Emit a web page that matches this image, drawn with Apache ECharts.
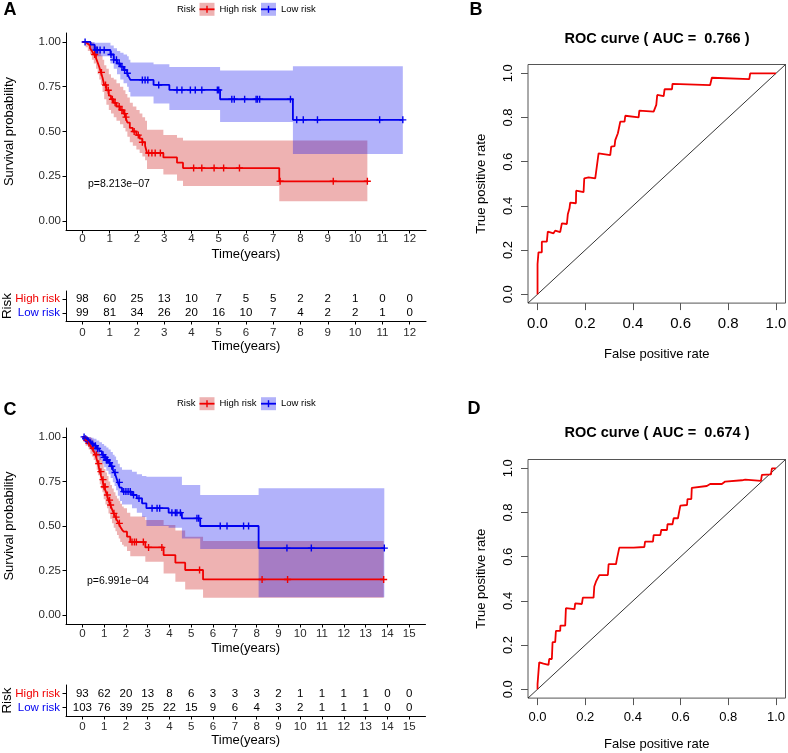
<!DOCTYPE html>
<html><head><meta charset="utf-8">
<script src="https://cdn.jsdelivr.net/npm/echarts@6/dist/echarts.min.js"></script>
<style>html,body{margin:0;padding:0;background:#fff}#c{width:788px;height:753px}</style>
</head><body><div id="c"></div>
<script>
// ---------- Panel A : Kaplan-Meier ----------
const highA_t  = [0,0.12,0.2,0.28,0.35,0.42,0.5,0.56,0.62,0.68,0.74,0.8,0.88,0.97,1.05,1.15,1.25,1.38,1.5,1.58,1.65,1.74,1.85,1.98,2.1,2.2,2.3,2.37,2.97,3.47,3.69,7.22,10.45];
const highA_s  = [1,0.99,0.98,0.965,0.95,0.93,0.91,0.885,0.86,0.83,0.8,0.76,0.73,0.7,0.68,0.66,0.64,0.62,0.6,0.58,0.55,0.52,0.5,0.48,0.46,0.44,0.42,0.38,0.355,0.326,0.296,0.222,0.222];
const highA_hi = [1,1,1,1,0.995,0.985,0.975,0.96,0.945,0.925,0.9,0.87,0.85,0.82,0.8,0.79,0.77,0.75,0.73,0.71,0.69,0.66,0.64,0.62,0.6,0.58,0.56,0.51,0.48,0.465,0.45,0.45,0.45];
const highA_lo = [1,0.97,0.95,0.93,0.9,0.88,0.85,0.82,0.79,0.76,0.72,0.68,0.65,0.62,0.6,0.58,0.56,0.54,0.52,0.5,0.47,0.44,0.42,0.4,0.38,0.36,0.34,0.29,0.26,0.225,0.195,0.11,0.11];
const highA_cens = [0.45,0.7,0.85,0.95,1.1,1.2,1.35,1.45,1.55,1.6,1.9,2.05,2.2,2.43,2.55,2.67,2.86,4.08,4.38,4.83,5.18,5.76,7.25,9.2,10.45];

const lowA_t  = [0,0.3,0.45,1.03,1.15,1.27,1.39,1.51,1.64,1.7,1.76,2.61,3.19,5.05,7.72,11.75];
const lowA_s  = [1,0.985,0.955,0.93,0.9,0.88,0.862,0.843,0.825,0.806,0.788,0.76,0.732,0.68,0.565,0.565];
const lowA_hi = [1,1,0.995,0.98,0.965,0.95,0.94,0.93,0.92,0.9,0.885,0.875,0.86,0.84,0.865,0.865];
const lowA_lo = [1,0.95,0.92,0.88,0.85,0.82,0.79,0.77,0.75,0.72,0.695,0.657,0.62,0.553,0.375,0.375];
const lowA_cens = [0.1,0.5,0.55,0.65,0.8,1.05,1.15,1.25,1.35,1.45,1.55,1.65,2.2,2.3,2.4,2.8,3.47,3.65,3.96,4.14,4.38,4.95,5.0,5.48,5.57,5.95,6.37,6.42,6.5,7.63,7.86,8.1,8.62,10.9,11.75];

const tableA_times = [0,1,2,3,4,5,6,7,8,9,10,11,12];
const tableA_high  = [98,60,25,13,10,7,5,5,2,2,1,0,0];
const tableA_low   = [99,81,34,26,20,16,10,7,4,2,2,1,0];
const pA = 'p=8.213e\u221207';

// ---------- Panel C : Kaplan-Meier ----------
const highC_t  = [0,0.15,0.29,0.37,0.44,0.52,0.6,0.66,0.72,0.8,0.86,0.92,0.98,1.06,1.13,1.2,1.28,1.36,1.44,1.52,1.59,1.67,1.74,1.82,1.9,2.05,2.2,2.89,3.73,4.27,4.72,5.54,13.83];
const highC_s  = [1,0.98,0.964,0.95,0.936,0.92,0.9,0.875,0.85,0.805,0.78,0.76,0.72,0.7,0.674,0.645,0.618,0.595,0.571,0.55,0.533,0.515,0.496,0.48,0.468,0.44,0.41,0.38,0.337,0.294,0.253,0.2,0.2];
const highC_hi = [1,1,1,0.995,0.985,0.97,0.955,0.94,0.92,0.89,0.87,0.85,0.82,0.8,0.78,0.75,0.73,0.71,0.69,0.67,0.655,0.64,0.625,0.61,0.6,0.575,0.553,0.534,0.506,0.475,0.44,0.416,0.416];
const highC_lo = [1,0.95,0.93,0.905,0.89,0.87,0.845,0.815,0.785,0.735,0.71,0.69,0.65,0.62,0.6,0.57,0.54,0.515,0.49,0.47,0.45,0.43,0.41,0.395,0.385,0.36,0.33,0.3,0.234,0.187,0.144,0.097,0.097];
const highC_cens = [0.2,0.3,0.5,0.65,0.75,0.85,0.95,1.0,1.05,1.15,1.25,1.3,1.45,1.55,1.7,2.28,2.39,2.48,2.8,3.04,3.65,5.38,8.25,9.42,13.83];

const lowC_t  = [0,0.1,0.2,0.3,0.4,0.52,0.65,0.78,0.9,1.0,1.1,1.2,1.3,1.4,1.48,1.55,1.63,1.72,1.82,2.28,2.5,2.74,2.94,3.96,4.57,5.41,8.09,13.86];
const lowC_s  = [1,0.99,0.98,0.97,0.96,0.95,0.935,0.92,0.9,0.885,0.87,0.855,0.835,0.815,0.8,0.775,0.745,0.715,0.693,0.674,0.655,0.627,0.6,0.575,0.543,0.5,0.376,0.376];
const lowC_hi = [1,1,1,1,0.995,0.99,0.98,0.97,0.96,0.95,0.94,0.93,0.915,0.9,0.89,0.87,0.85,0.83,0.815,0.805,0.79,0.78,0.777,0.777,0.73,0.674,0.712,0.712];
const lowC_lo = [1,0.97,0.955,0.94,0.925,0.91,0.89,0.87,0.85,0.83,0.81,0.79,0.77,0.745,0.725,0.7,0.67,0.64,0.62,0.6,0.575,0.55,0.5,0.49,0.43,0.371,0.1,0.1];
const lowC_cens = [0.08,0.15,0.25,0.35,0.45,0.6,0.7,0.95,1.0,1.05,1.1,1.15,1.25,1.35,1.5,1.7,1.9,2.0,2.1,2.2,2.35,2.6,3.2,3.43,3.55,4.11,4.27,4.34,4.5,5.26,5.34,6.33,6.64,7.4,7.63,9.39,10.51,13.86];

const tableC_times = [0,1,2,3,4,5,6,7,8,9,10,11,12,13,14,15];
const tableC_high  = [93,62,20,13,8,6,3,3,3,2,1,1,1,1,0,0];
const tableC_low   = [103,76,39,25,22,15,9,6,4,3,2,1,1,1,0,0];
const pC = 'p=6.991e\u221204';

// ---------- Panels B and D : ROC ----------
const rocB_fpr = [0,0,0.004,0.004,0.018,0.018,0.039,0.043,0.067,0.074,0.095,0.102,0.123,0.127,0.134,0.137,0.161,0.162,0.193,0.196,0.214,0.242,0.249,0.256,0.305,0.309,0.323,0.326,0.337,0.347,0.365,0.368,0.424,0.427,0.487,0.498,0.502,0.529,0.533,0.564,0.566,0.724,0.731,0.888,0.892,1];
const rocB_tpr = [0,0.137,0.137,0.19,0.19,0.238,0.238,0.284,0.276,0.288,0.281,0.321,0.318,0.362,0.389,0.415,0.412,0.469,0.462,0.525,0.529,0.525,0.581,0.638,0.63,0.668,0.671,0.698,0.729,0.781,0.781,0.808,0.801,0.831,0.827,0.857,0.902,0.897,0.928,0.928,0.952,0.947,0.98,0.974,1,1];
const aucB = '0.766';
const rocD_fpr = [0,0,0.004,0.007,0.025,0.046,0.049,0.06,0.063,0.074,0.077,0.095,0.096,0.116,0.119,0.155,0.158,0.186,0.19,0.235,0.238,0.245,0.249,0.259,0.295,0.298,0.329,0.333,0.343,0.403,0.448,0.451,0.484,0.487,0.515,0.519,0.543,0.545,0.566,0.571,0.589,0.594,0.599,0.627,0.629,0.645,0.647,0.71,0.724,0.773,0.787,0.857,0.871,0.937,0.941,0.979,0.983,1];
const rocD_tpr = [0,0.023,0.027,0.122,0.116,0.11,0.137,0.137,0.213,0.213,0.264,0.264,0.288,0.288,0.367,0.363,0.389,0.386,0.415,0.415,0.465,0.487,0.495,0.517,0.517,0.566,0.566,0.59,0.641,0.641,0.644,0.668,0.668,0.698,0.698,0.721,0.721,0.747,0.747,0.774,0.774,0.804,0.831,0.834,0.861,0.861,0.912,0.92,0.929,0.929,0.94,0.946,0.949,0.943,0.97,0.973,1,1];
const aucD = '0.674';

const kmYTicks = [0,0.25,0.5,0.75,1];
const rocTicks = [0,0.2,0.4,0.6,0.8,1];

// ---------- styling ----------
const FONT = "'Liberation Sans', Arial, Helvetica, sans-serif";
const RED = '#f00000', BLUE = '#0000f0';
const RED_FILL = 'rgba(200,0,0,0.3)', BLUE_FILL = 'rgba(0,0,240,0.3)';
const PLUS = 'path://M4,0H6V4H10V6H6V10H4V6H0V4H4Z';

function range(a,b){const r=[];for(let i=a;i<=b;i++)r.push(i);return r;}
function stepAt(t,s,x){let v=s[0];for(let i=0;i<t.length;i++){if(t[i]<=x+1e-9)v=s[i];}return v;}
function pairs(a,b){return a.map((v,i)=>[v,b[i]]);}

function band(xi,t,lo,hi,fill){
  return {type:'custom',xAxisIndex:xi,yAxisIndex:xi,silent:true,clip:true,
    data:[[t[0],lo[0]]],
    renderItem:function(params,api){
      const up=[],dn=[];
      for(let i=0;i<t.length-1;i++){
        up.push(api.coord([t[i],hi[i]]));up.push(api.coord([t[i+1],hi[i]]));
        dn.push(api.coord([t[i],lo[i]]));dn.push(api.coord([t[i+1],lo[i]]));
      }
      return {type:'polygon',shape:{points:up.concat(dn.reverse())},style:{fill:fill}};
    }};
}
function stepLine(xi,t,s,color){
  return {type:'line',xAxisIndex:xi,yAxisIndex:xi,step:'end',showSymbol:false,silent:true,
    data:pairs(t,s),lineStyle:{color:color,width:1.8},itemStyle:{color:color}};
}
function censor(xi,t,s,cens,color){
  return {type:'scatter',xAxisIndex:xi,yAxisIndex:xi,silent:true,symbol:PLUS,symbolSize:7,
    data:cens.map(c=>[c,stepAt(t,s,c)]),itemStyle:{color:color,opacity:1}};
}
function tableSeries(xi,times,high,low){
  const d=[];
  times.forEach((tm,i)=>{d.push([tm,1,high[i]]);d.push([tm,2,low[i]]);});
  return {type:'custom',xAxisIndex:xi,yAxisIndex:xi,silent:true,data:d,
    renderItem:function(params,api){
      const p=api.coord([api.value(0),api.value(1)]);
      return {type:'text',x:p[0],y:p[1],style:{text:String(api.value(2)),fill:'#000',
        font:'11.5px '+FONT,align:'center',verticalAlign:'middle'}};
    }};
}

const grids = [
  {left:66,top:33,width:360,height:197},       // 0 KM A
  {left:66,top:291,width:360,height:30},       // 1 table A
  {left:528,top:64.5,width:257.5,height:238.6, show:true,borderColor:'#555',borderWidth:1}, // 2 ROC B
  {left:66,top:428,width:359.5,height:196},    // 3 KM C
  {left:66,top:685,width:359.5,height:31},     // 4 table C
  {left:528,top:459.5,width:257.5,height:238.6, show:true,borderColor:'#555',borderWidth:1}  // 5 ROC D
].map(g=>Object.assign({containLabel:false,outerBoundsMode:'none'},g));

function kmX(gi,min,max,ticks,labelMargin,nameGap){
  return {gridIndex:gi,type:'value',min:min,max:max,position:'bottom',
    axisLine:{show:true,onZero:false,lineStyle:{color:'#000',width:1}},
    axisTick:{show:true,customValues:ticks,length:3.5,lineStyle:{color:'#000'}},
    axisLabel:{customValues:ticks,color:'#2b2b2b',fontSize:11.5,fontFamily:FONT,margin:labelMargin},
    splitLine:{show:false},
    name:'Time(years)',nameLocation:'middle',nameGap:nameGap,nameMoveOverlap:false,
    nameTextStyle:{fontSize:13,color:'#000',fontFamily:FONT}};
}
function kmY(gi){
  return {gridIndex:gi,type:'value',min:-0.05,max:1.05,position:'left',
    axisLine:{show:true,onZero:false,lineStyle:{color:'#000',width:1}},
    axisTick:{show:true,customValues:kmYTicks,length:3.5,lineStyle:{color:'#000'}},
    axisLabel:{customValues:kmYTicks,formatter:v=>v.toFixed(2),color:'#2b2b2b',fontSize:11.5,fontFamily:FONT,margin:5},
    splitLine:{show:false},
    name:'Survival probability',nameLocation:'middle',nameGap:50,nameMoveOverlap:false,
    nameTextStyle:{fontSize:13,color:'#000',fontFamily:FONT}};
}
function tabY(gi){
  return {gridIndex:gi,type:'value',min:0.4,max:2.6,inverse:true,position:'left',
    axisLine:{show:true,onZero:false,lineStyle:{color:'#000',width:1}},
    axisTick:{show:true,customValues:[1,2],length:3.5,lineStyle:{color:'#000'}},
    axisLabel:{customValues:[1,2],margin:6,
      formatter:v=>v===1?'{h|High risk}':'{l|Low risk}',
      rich:{h:{color:RED,fontSize:11.5,fontFamily:FONT},l:{color:BLUE,fontSize:11.5,fontFamily:FONT}}},
    splitLine:{show:false},
    name:'Risk',nameLocation:'middle',nameGap:52,nameMoveOverlap:false,
    nameTextStyle:{fontSize:13.5,color:'#000',fontFamily:FONT}};
}
function rocX(gi,fs,nameGap){
  return {gridIndex:gi,type:'value',min:-0.04,max:1.04,position:'bottom',
    axisLine:{show:false,onZero:false},
    axisTick:{show:true,customValues:rocTicks,length:7,lineStyle:{color:'#555'}},
    axisLabel:{customValues:rocTicks,formatter:v=>v.toFixed(1),color:'#000',fontSize:fs,fontFamily:FONT,margin:13},
    splitLine:{show:false},
    name:'False positive rate',nameLocation:'middle',nameGap:nameGap,nameMoveOverlap:false,
    nameTextStyle:{fontSize:13,color:'#000',fontFamily:FONT}};
}
function rocY(gi){
  return {gridIndex:gi,type:'value',min:-0.04,max:1.04,position:'left',
    axisLine:{show:false,onZero:false},
    axisTick:{show:true,customValues:rocTicks,length:7,lineStyle:{color:'#555'}},
    axisLabel:{customValues:rocTicks,formatter:v=>v.toFixed(1),rotate:90,color:'#000',fontSize:13,fontFamily:FONT,margin:13},
    splitLine:{show:false},
    name:'True positive rate',nameLocation:'middle',nameGap:40,nameMoveOverlap:false,
    nameTextStyle:{fontSize:13,color:'#000',fontFamily:FONT}};
}

const ticksA = range(0,12), ticksC = range(0,15);

const xAxes = [kmX(0,-0.6,12.6,ticksA,3,18), kmX(1,-0.6,12.6,ticksA,6,19), rocX(2,15,45),
               kmX(3,-0.75,15.75,ticksC,4,18), kmX(4,-0.75,15.75,ticksC,5,18), rocX(5,13,40)];
const yAxes = [kmY(0), tabY(1), rocY(2), kmY(3), tabY(4), rocY(5)];

function rocSeries(xi,fpr,tpr){
  return [
    {type:'line',xAxisIndex:xi,yAxisIndex:xi,silent:true,showSymbol:false,data:[[-0.04,-0.04],[1.04,1.04]],
      lineStyle:{color:'#000',width:0.8}},
    {type:'line',xAxisIndex:xi,yAxisIndex:xi,silent:true,showSymbol:false,data:pairs(fpr,tpr),
      lineStyle:{color:RED,width:1.8}}
  ];
}

const series = [
  band(0,highA_t,highA_lo,highA_hi,RED_FILL), stepLine(0,highA_t,highA_s,RED), censor(0,highA_t,highA_s,highA_cens,RED),
  band(0,lowA_t,lowA_lo,lowA_hi,BLUE_FILL), stepLine(0,lowA_t,lowA_s,BLUE), censor(0,lowA_t,lowA_s,lowA_cens,BLUE),
  tableSeries(1,tableA_times,tableA_high,tableA_low),
  ...rocSeries(2,rocB_fpr,rocB_tpr),
  band(3,highC_t,highC_lo,highC_hi,RED_FILL), stepLine(3,highC_t,highC_s,RED), censor(3,highC_t,highC_s,highC_cens,RED),
  band(3,lowC_t,lowC_lo,lowC_hi,BLUE_FILL), stepLine(3,lowC_t,lowC_s,BLUE), censor(3,lowC_t,lowC_s,lowC_cens,BLUE),
  tableSeries(4,tableC_times,tableC_high,tableC_low),
  ...rocSeries(5,rocD_fpr,rocD_tpr)
];

function txt(x,y,text,size,opts){
  return {type:'text',x:x,y:y,silent:true,
    style:Object.assign({text:text,fill:'#000',font:size+'px '+FONT,align:'left',verticalAlign:'middle'},opts||{})};
}
function legend(cy){
  const el=[];
  el.push(txt(177,cy,'Risk',9.5));
  [[199.5,RED_FILL,RED,'High risk',219.5],[261,BLUE_FILL,BLUE,'Low risk',281]].forEach(k=>{
    el.push({type:'rect',silent:true,shape:{x:k[0],y:cy-6.5,width:15,height:13},style:{fill:k[1]}});
    el.push({type:'line',silent:true,shape:{x1:k[0],y1:cy,x2:k[0]+15,y2:cy},style:{stroke:k[2],lineWidth:1.8}});
    el.push({type:'line',silent:true,shape:{x1:k[0]+7.5,y1:cy-3.5,x2:k[0]+7.5,y2:cy+3.5},style:{stroke:k[2],lineWidth:1.4}});
    el.push(txt(k[4],cy,k[3],9.5));
  });
  return el;
}
const graphics = [
  txt(10,10.5,'A',18,{font:'bold 18px '+FONT,align:'center'}),
  txt(476,10.5,'B',18,{font:'bold 18px '+FONT,align:'center'}),
  txt(10,410,'C',18,{font:'bold 18px '+FONT,align:'center'}),
  txt(474,409.5,'D',18,{font:'bold 18px '+FONT,align:'center'}),
  ...legend(9.3), ...legend(403.7),
  txt(88,184.3,pA,10.5),
  txt(87,580.7,pC,10.5),
  txt(657,39,'ROC curve ( AUC =  '+aucB+' )',14.5,{font:'bold 14.5px '+FONT,align:'center'}),
  txt(657,433,'ROC curve ( AUC =  '+aucD+' )',14.5,{font:'bold 14.5px '+FONT,align:'center'})
];

const chart = echarts.init(document.getElementById('c'),null,{renderer:'canvas'});
chart.setOption({
  animation:false,
  backgroundColor:'#fff',
  textStyle:{fontFamily:FONT},
  grid:grids, xAxis:xAxes, yAxis:yAxes, series:series,
  graphic:{elements:graphics}
});
</script></body></html>
